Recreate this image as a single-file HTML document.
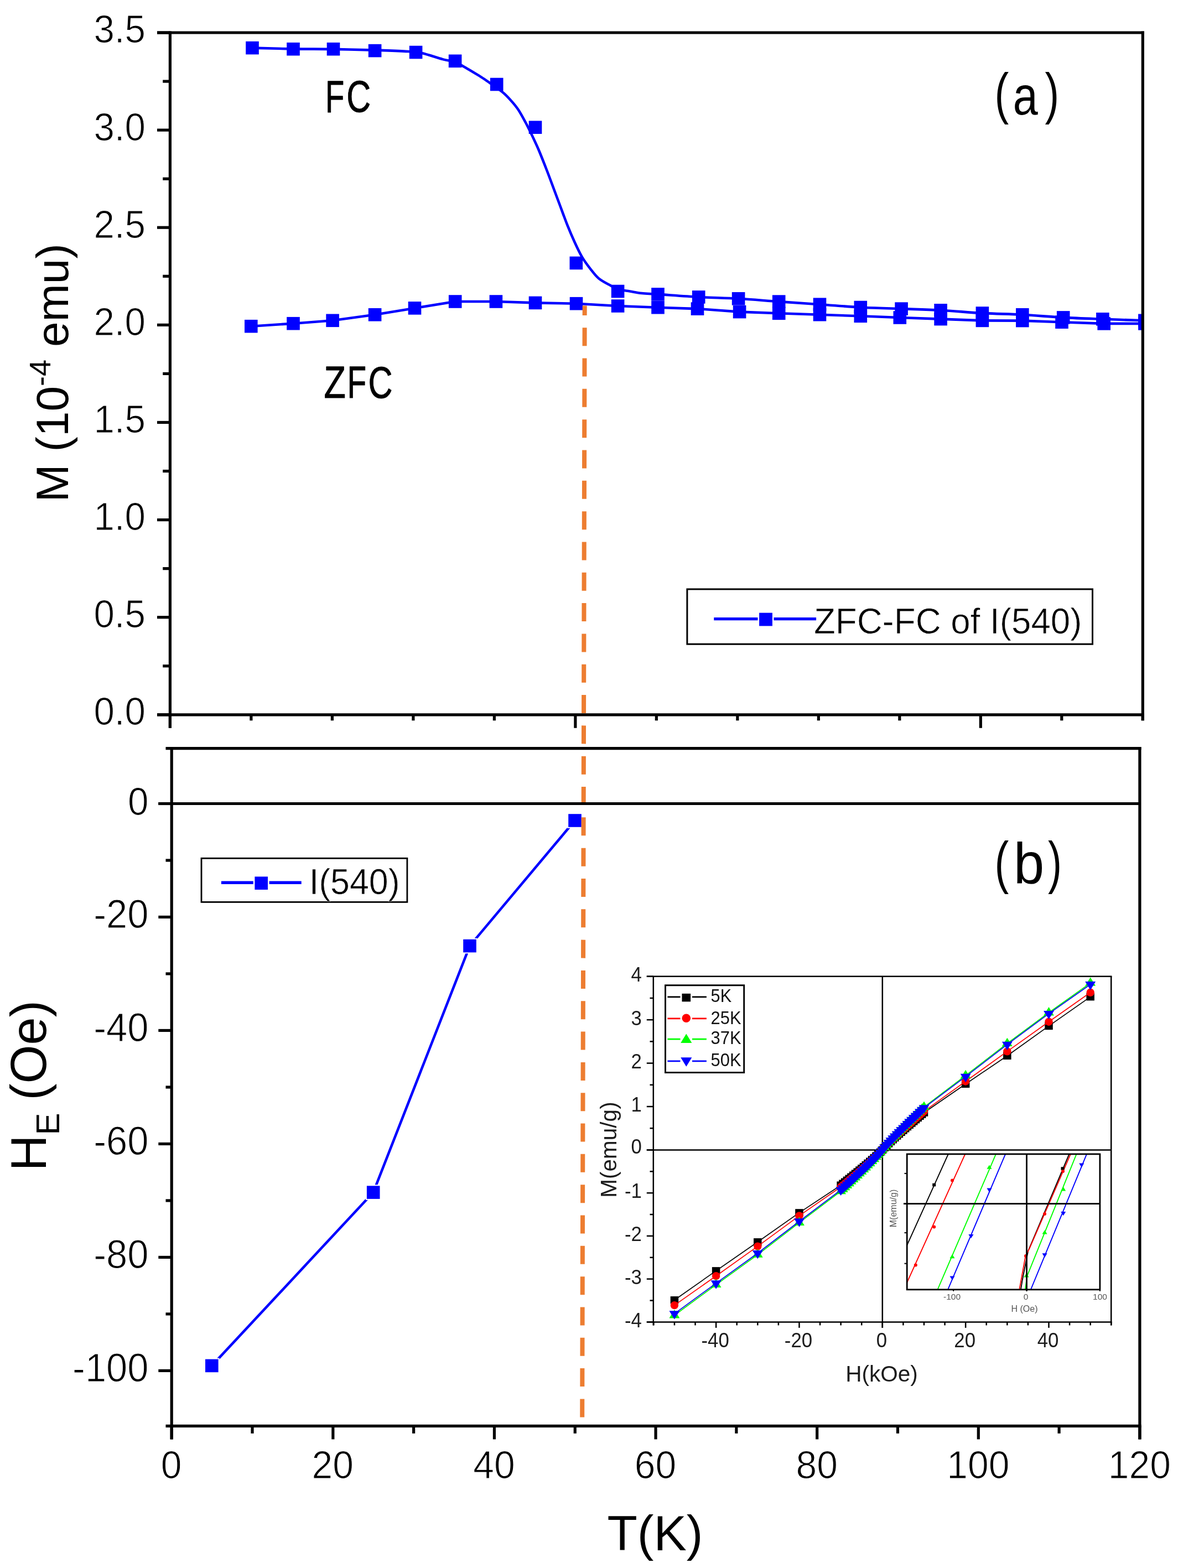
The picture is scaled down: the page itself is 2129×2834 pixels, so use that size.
<!DOCTYPE html>
<html lang="en">
<head>
<meta charset="utf-8">
<title>ZFC-FC magnetization and exchange bias field of I(540)</title>
<style>
html,body{margin:0;padding:0;background:#fff;}
body{width:2129px;height:2834px;overflow:hidden;}
svg{display:block;}
</style>
</head>
<body>
<svg width="2129" height="2834" viewBox="0 0 2129 2834" font-family="'Liberation Sans', Arial, sans-serif" shape-rendering="geometricPrecision">
<rect x="0.00" y="0.00" width="2129.00" height="2834.00" fill="#fff" stroke="none" stroke-width="0" />
<g id="panel-a">
<clipPath id="clipA"><rect x="307.4" y="59.0" width="1757.9" height="1232.8"/></clipPath>
<g clip-path="url(#clipA)">
<polyline fill="none" stroke="#0000ff" stroke-width="4.6" stroke-linejoin="round" points="453.8,589.7 530.0,584.7 601.1,579.3 677.6,568.8 749.5,556.9 822.7,545.0 896.4,545.0 967.5,547.4 1041.5,548.7 1116.6,553.0 1189.0,555.7 1260.5,558.1 1336.6,563.6 1407.7,566.3 1481.5,568.7 1555.3,571.3 1626.3,574.0 1700.1,576.6 1775.4,579.4 1847.8,579.6 1919.0,582.2 1995.2,584.9 2068.9,584.9"/>
<path fill="none" stroke="#0000ff" stroke-width="4.6" stroke-linejoin="round" d="M456.0,86.6 C468.3,86.9 505.6,88.0 530.0,88.4 C554.4,88.8 577.9,88.5 602.5,88.9 C627.1,89.3 656.4,90.0 677.6,90.6 C698.9,91.2 716.3,91.8 730.0,92.6 C743.7,93.4 748.3,93.1 760.0,95.5 C771.7,97.9 789.6,104.3 800.0,107.1 C810.4,109.9 815.4,109.8 822.6,112.5 C829.8,115.2 836.3,119.4 843.4,123.4 C850.5,127.4 858.2,132.1 865.1,136.4 C872.0,140.7 877.4,144.3 884.6,149.4 C891.8,154.5 902.0,161.4 908.5,166.8 C915.0,172.2 919.0,176.8 923.7,182.0 C928.4,187.2 932.4,191.8 936.7,198.3 C941.0,204.8 945.7,213.6 949.7,221.0 C953.7,228.4 956.6,234.5 960.6,242.8 C964.6,251.1 969.3,260.9 973.6,271.0 C977.9,281.1 982.2,292.3 986.6,303.5 C991.0,314.7 995.4,326.6 999.7,338.2 C1004.1,349.8 1008.4,361.4 1012.7,373.0 C1017.0,384.6 1021.4,396.9 1025.7,407.7 C1030.0,418.5 1034.4,428.6 1038.7,438.0 C1043.0,447.4 1047.0,456.1 1051.7,464.1 C1056.4,472.1 1061.8,479.3 1066.9,485.8 C1072.0,492.3 1075.9,498.1 1082.1,503.2 C1088.2,508.3 1098.0,513.0 1103.8,516.2 C1109.5,519.5 1110.8,521.0 1116.6,522.7 C1122.4,524.4 1131.3,525.3 1138.5,526.5 C1145.7,527.7 1151.6,529.1 1160.0,530.0 C1168.4,530.9 1171.9,530.8 1189.0,531.9 C1206.1,533.0 1238.4,535.6 1262.7,536.9 C1287.0,538.2 1310.4,538.4 1334.6,539.8 C1358.8,541.2 1383.2,543.4 1407.7,545.1 C1432.2,546.8 1456.9,548.5 1481.5,550.2 C1506.1,551.9 1530.7,554.2 1555.3,555.5 C1579.9,556.8 1605.0,557.2 1629.1,558.1 C1653.2,559.0 1675.7,559.5 1700.1,560.8 C1724.5,562.1 1750.8,564.7 1775.4,566.0 C1800.0,567.3 1823.4,567.5 1847.8,568.8 C1872.2,570.1 1897.5,572.6 1921.7,573.9 C1945.9,575.2 1968.4,575.9 1992.9,576.8 C2017.4,577.7 2056.2,578.9 2068.9,579.3"/>
<rect x="442.00" y="577.90" width="23.60" height="23.60" fill="#0000ff" stroke="none" stroke-width="0" />
<rect x="518.20" y="572.90" width="23.60" height="23.60" fill="#0000ff" stroke="none" stroke-width="0" />
<rect x="589.30" y="567.50" width="23.60" height="23.60" fill="#0000ff" stroke="none" stroke-width="0" />
<rect x="665.80" y="557.00" width="23.60" height="23.60" fill="#0000ff" stroke="none" stroke-width="0" />
<rect x="737.70" y="545.10" width="23.60" height="23.60" fill="#0000ff" stroke="none" stroke-width="0" />
<rect x="810.90" y="533.20" width="23.60" height="23.60" fill="#0000ff" stroke="none" stroke-width="0" />
<rect x="884.60" y="533.20" width="23.60" height="23.60" fill="#0000ff" stroke="none" stroke-width="0" />
<rect x="955.70" y="535.60" width="23.60" height="23.60" fill="#0000ff" stroke="none" stroke-width="0" />
<rect x="1029.70" y="536.90" width="23.60" height="23.60" fill="#0000ff" stroke="none" stroke-width="0" />
<rect x="1104.80" y="541.20" width="23.60" height="23.60" fill="#0000ff" stroke="none" stroke-width="0" />
<rect x="1177.20" y="543.90" width="23.60" height="23.60" fill="#0000ff" stroke="none" stroke-width="0" />
<rect x="1248.70" y="546.30" width="23.60" height="23.60" fill="#0000ff" stroke="none" stroke-width="0" />
<rect x="1324.80" y="551.80" width="23.60" height="23.60" fill="#0000ff" stroke="none" stroke-width="0" />
<rect x="1395.90" y="554.50" width="23.60" height="23.60" fill="#0000ff" stroke="none" stroke-width="0" />
<rect x="1469.70" y="556.90" width="23.60" height="23.60" fill="#0000ff" stroke="none" stroke-width="0" />
<rect x="1543.50" y="559.50" width="23.60" height="23.60" fill="#0000ff" stroke="none" stroke-width="0" />
<rect x="1614.50" y="562.20" width="23.60" height="23.60" fill="#0000ff" stroke="none" stroke-width="0" />
<rect x="1688.30" y="564.80" width="23.60" height="23.60" fill="#0000ff" stroke="none" stroke-width="0" />
<rect x="1763.60" y="567.60" width="23.60" height="23.60" fill="#0000ff" stroke="none" stroke-width="0" />
<rect x="1836.00" y="567.80" width="23.60" height="23.60" fill="#0000ff" stroke="none" stroke-width="0" />
<rect x="1907.20" y="570.40" width="23.60" height="23.60" fill="#0000ff" stroke="none" stroke-width="0" />
<rect x="1983.40" y="573.10" width="23.60" height="23.60" fill="#0000ff" stroke="none" stroke-width="0" />
<rect x="2057.10" y="573.10" width="23.60" height="23.60" fill="#0000ff" stroke="none" stroke-width="0" />
<rect x="444.20" y="74.80" width="23.60" height="23.60" fill="#0000ff" stroke="none" stroke-width="0" />
<rect x="518.20" y="76.90" width="23.60" height="23.60" fill="#0000ff" stroke="none" stroke-width="0" />
<rect x="590.70" y="76.90" width="23.60" height="23.60" fill="#0000ff" stroke="none" stroke-width="0" />
<rect x="665.80" y="79.80" width="23.60" height="23.60" fill="#0000ff" stroke="none" stroke-width="0" />
<rect x="739.80" y="82.70" width="23.60" height="23.60" fill="#0000ff" stroke="none" stroke-width="0" />
<rect x="810.80" y="98.50" width="23.60" height="23.60" fill="#0000ff" stroke="none" stroke-width="0" />
<rect x="885.90" y="140.70" width="23.60" height="23.60" fill="#0000ff" stroke="none" stroke-width="0" />
<rect x="955.70" y="218.40" width="23.60" height="23.60" fill="#0000ff" stroke="none" stroke-width="0" />
<rect x="1029.50" y="463.60" width="23.60" height="23.60" fill="#0000ff" stroke="none" stroke-width="0" />
<rect x="1104.80" y="514.70" width="23.60" height="23.60" fill="#0000ff" stroke="none" stroke-width="0" />
<rect x="1177.20" y="520.10" width="23.60" height="23.60" fill="#0000ff" stroke="none" stroke-width="0" />
<rect x="1250.90" y="525.10" width="23.60" height="23.60" fill="#0000ff" stroke="none" stroke-width="0" />
<rect x="1322.80" y="528.00" width="23.60" height="23.60" fill="#0000ff" stroke="none" stroke-width="0" />
<rect x="1395.90" y="533.30" width="23.60" height="23.60" fill="#0000ff" stroke="none" stroke-width="0" />
<rect x="1469.70" y="538.40" width="23.60" height="23.60" fill="#0000ff" stroke="none" stroke-width="0" />
<rect x="1543.50" y="543.70" width="23.60" height="23.60" fill="#0000ff" stroke="none" stroke-width="0" />
<rect x="1617.30" y="546.30" width="23.60" height="23.60" fill="#0000ff" stroke="none" stroke-width="0" />
<rect x="1688.30" y="549.00" width="23.60" height="23.60" fill="#0000ff" stroke="none" stroke-width="0" />
<rect x="1763.60" y="554.20" width="23.60" height="23.60" fill="#0000ff" stroke="none" stroke-width="0" />
<rect x="1836.00" y="557.00" width="23.60" height="23.60" fill="#0000ff" stroke="none" stroke-width="0" />
<rect x="1909.90" y="562.10" width="23.60" height="23.60" fill="#0000ff" stroke="none" stroke-width="0" />
<rect x="1981.10" y="565.00" width="23.60" height="23.60" fill="#0000ff" stroke="none" stroke-width="0" />
<rect x="2057.10" y="567.50" width="23.60" height="23.60" fill="#0000ff" stroke="none" stroke-width="0" />
</g>
<line x1="284.00" y1="59.00" x2="2067.90" y2="59.00" stroke="#000" stroke-width="5.2" />
<line x1="284.00" y1="1291.80" x2="2067.90" y2="1291.80" stroke="#000" stroke-width="5.2" />
<line x1="307.40" y1="56.40" x2="307.40" y2="1315.80" stroke="#000" stroke-width="5.2" />
<line x1="2065.30" y1="56.40" x2="2065.30" y2="1302.30" stroke="#000" stroke-width="5.2" />
<line x1="284.00" y1="1291.80" x2="307.40" y2="1291.80" stroke="#000" stroke-width="5.2" />
<text transform="translate(263.00,1310.20) scale(0.955,1)" font-size="70.5" text-anchor="end" fill="#000" stroke="#fff" stroke-width="1.1">0.0</text>
<line x1="294.20" y1="1203.74" x2="307.40" y2="1203.74" stroke="#000" stroke-width="5.2" />
<line x1="284.00" y1="1115.69" x2="307.40" y2="1115.69" stroke="#000" stroke-width="5.2" />
<text transform="translate(263.00,1134.09) scale(0.955,1)" font-size="70.5" text-anchor="end" fill="#000" stroke="#fff" stroke-width="1.1">0.5</text>
<line x1="294.20" y1="1027.63" x2="307.40" y2="1027.63" stroke="#000" stroke-width="5.2" />
<line x1="284.00" y1="939.57" x2="307.40" y2="939.57" stroke="#000" stroke-width="5.2" />
<text transform="translate(263.00,957.97) scale(0.955,1)" font-size="70.5" text-anchor="end" fill="#000" stroke="#fff" stroke-width="1.1">1.0</text>
<line x1="294.20" y1="851.51" x2="307.40" y2="851.51" stroke="#000" stroke-width="5.2" />
<line x1="284.00" y1="763.46" x2="307.40" y2="763.46" stroke="#000" stroke-width="5.2" />
<text transform="translate(263.00,781.86) scale(0.955,1)" font-size="70.5" text-anchor="end" fill="#000" stroke="#fff" stroke-width="1.1">1.5</text>
<line x1="294.20" y1="675.40" x2="307.40" y2="675.40" stroke="#000" stroke-width="5.2" />
<line x1="284.00" y1="587.34" x2="307.40" y2="587.34" stroke="#000" stroke-width="5.2" />
<text transform="translate(263.00,605.74) scale(0.955,1)" font-size="70.5" text-anchor="end" fill="#000" stroke="#fff" stroke-width="1.1">2.0</text>
<line x1="294.20" y1="499.29" x2="307.40" y2="499.29" stroke="#000" stroke-width="5.2" />
<line x1="284.00" y1="411.23" x2="307.40" y2="411.23" stroke="#000" stroke-width="5.2" />
<text transform="translate(263.00,429.63) scale(0.955,1)" font-size="70.5" text-anchor="end" fill="#000" stroke="#fff" stroke-width="1.1">2.5</text>
<line x1="294.20" y1="323.17" x2="307.40" y2="323.17" stroke="#000" stroke-width="5.2" />
<line x1="284.00" y1="235.11" x2="307.40" y2="235.11" stroke="#000" stroke-width="5.2" />
<text transform="translate(263.00,253.51) scale(0.955,1)" font-size="70.5" text-anchor="end" fill="#000" stroke="#fff" stroke-width="1.1">3.0</text>
<line x1="294.20" y1="147.06" x2="307.40" y2="147.06" stroke="#000" stroke-width="5.2" />
<line x1="284.00" y1="59.00" x2="307.40" y2="59.00" stroke="#000" stroke-width="5.2" />
<text transform="translate(263.00,77.40) scale(0.955,1)" font-size="70.5" text-anchor="end" fill="#000" stroke="#fff" stroke-width="1.1">3.5</text>
<line x1="307.40" y1="1291.80" x2="307.40" y2="1315.80" stroke="#000" stroke-width="5.2" />
<line x1="453.89" y1="1291.80" x2="453.89" y2="1302.30" stroke="#000" stroke-width="5.2" />
<line x1="600.38" y1="1291.80" x2="600.38" y2="1302.30" stroke="#000" stroke-width="5.2" />
<line x1="746.88" y1="1291.80" x2="746.88" y2="1302.30" stroke="#000" stroke-width="5.2" />
<line x1="893.37" y1="1291.80" x2="893.37" y2="1302.30" stroke="#000" stroke-width="5.2" />
<line x1="1039.86" y1="1291.80" x2="1039.86" y2="1315.80" stroke="#000" stroke-width="5.2" />
<line x1="1186.35" y1="1291.80" x2="1186.35" y2="1302.30" stroke="#000" stroke-width="5.2" />
<line x1="1332.84" y1="1291.80" x2="1332.84" y2="1302.30" stroke="#000" stroke-width="5.2" />
<line x1="1479.33" y1="1291.80" x2="1479.33" y2="1302.30" stroke="#000" stroke-width="5.2" />
<line x1="1625.82" y1="1291.80" x2="1625.82" y2="1302.30" stroke="#000" stroke-width="5.2" />
<line x1="1772.32" y1="1291.80" x2="1772.32" y2="1315.80" stroke="#000" stroke-width="5.2" />
<line x1="1918.81" y1="1291.80" x2="1918.81" y2="1302.30" stroke="#000" stroke-width="5.2" />
<line x1="2065.30" y1="1291.80" x2="2065.30" y2="1302.30" stroke="#000" stroke-width="5.2" />
<text transform="translate(123.4,673.9) rotate(-90)" font-size="82" text-anchor="middle" aria-label="M (10^-4 emu)">M (10<tspan font-size="54" dy="-32.5">-4</tspan><tspan dy="32.5"> emu)</tspan></text>
<text fill="#000" aria-label="FC" stroke="#000" stroke-width="1.0" stroke-linejoin="round"><tspan x="588.01" y="202.70" font-size="80.81" textLength="34.24" lengthAdjust="spacingAndGlyphs">F</tspan><tspan x="626.30" y="202.40" font-size="80.08" textLength="43.91" lengthAdjust="spacingAndGlyphs">C</tspan></text>
<text fill="#000" aria-label="ZFC" stroke="#000" stroke-width="1.0" stroke-linejoin="round"><tspan x="585.54" y="719.10" font-size="80.81" textLength="39.36" lengthAdjust="spacingAndGlyphs">Z</tspan><tspan x="627.46" y="719.10" font-size="80.81" textLength="34.61" lengthAdjust="spacingAndGlyphs">F</tspan><tspan x="665.59" y="718.80" font-size="80.08" textLength="44.03" lengthAdjust="spacingAndGlyphs">C</tspan></text>
<text fill="#000" aria-label="(a)"><tspan x="1797.50" y="203.83" font-size="102.25" textLength="25.76" lengthAdjust="spacingAndGlyphs">(</tspan><tspan x="1830.80" y="206.91" font-size="98.72" textLength="45.00" lengthAdjust="spacingAndGlyphs">a</tspan><tspan x="1888.54" y="203.83" font-size="102.25" textLength="25.63" lengthAdjust="spacingAndGlyphs">)</tspan></text>
<rect x="1241.90" y="1064.90" width="732.60" height="99.30" fill="#fff" stroke="#000" stroke-width="3" />
<line x1="1290.30" y1="1118.60" x2="1475.10" y2="1118.60" stroke="#0000ff" stroke-width="5.4" />
<rect x="1369.50" y="1105.00" width="29.00" height="29.00" fill="#fff" stroke="none" stroke-width="0" />
<rect x="1372.10" y="1107.60" width="23.80" height="23.80" fill="#0000ff" stroke="none" stroke-width="0" />
<text x="1470.90" y="1144.70" font-size="64" text-anchor="start" fill="#000" textLength="484.5" lengthAdjust="spacingAndGlyphs" stroke="#fff" stroke-width="0.7">ZFC-FC of I(540)</text>
</g>
<g id="panel-b">
<polyline fill="none" stroke="#0000ff" stroke-width="4.6" points="382.8,2468.4 674.7,2155.1 849.0,1709.6 1039.0,1483.0"/>
<rect x="369.00" y="2454.60" width="27.60" height="27.60" fill="#fff" stroke="none" stroke-width="0" />
<rect x="371.00" y="2456.60" width="23.60" height="23.60" fill="#0000ff" stroke="none" stroke-width="0" />
<rect x="660.90" y="2141.30" width="27.60" height="27.60" fill="#fff" stroke="none" stroke-width="0" />
<rect x="662.90" y="2143.30" width="23.60" height="23.60" fill="#0000ff" stroke="none" stroke-width="0" />
<rect x="835.20" y="1695.80" width="27.60" height="27.60" fill="#fff" stroke="none" stroke-width="0" />
<rect x="837.20" y="1697.80" width="23.60" height="23.60" fill="#0000ff" stroke="none" stroke-width="0" />
<rect x="1025.20" y="1469.20" width="27.60" height="27.60" fill="#fff" stroke="none" stroke-width="0" />
<rect x="1027.20" y="1471.20" width="23.60" height="23.60" fill="#0000ff" stroke="none" stroke-width="0" />
<rect x="364.00" y="1551.30" width="371.90" height="79.10" fill="#fff" stroke="#000" stroke-width="2.8" />
<line x1="399.90" y1="1595.20" x2="544.70" y2="1595.20" stroke="#0000ff" stroke-width="5.4" />
<rect x="457.80" y="1581.80" width="28.80" height="28.80" fill="#fff" stroke="none" stroke-width="0" />
<rect x="460.40" y="1584.40" width="23.60" height="23.60" fill="#0000ff" stroke="none" stroke-width="0" />
<text x="558.70" y="1616.00" font-size="64" text-anchor="start" fill="#000" textLength="164" lengthAdjust="spacingAndGlyphs" stroke="#fff" stroke-width="0.7">I(540)</text>
<text fill="#000" aria-label="(b)"><tspan x="1797.50" y="1594.16" font-size="104.08" textLength="25.76" lengthAdjust="spacingAndGlyphs">(</tspan><tspan x="1831.94" y="1596.27" font-size="103.40" textLength="55.23" lengthAdjust="spacingAndGlyphs">b</tspan><tspan x="1893.95" y="1594.16" font-size="104.08" textLength="25.01" lengthAdjust="spacingAndGlyphs">)</tspan></text>
</g>
<g id="inset">
<line x1="1168.80" y1="2078.40" x2="2008.20" y2="2078.40" stroke="#000" stroke-width="2.5" />
<line x1="1594.80" y1="1764.80" x2="1594.80" y2="2399.90" stroke="#000" stroke-width="2.5" />
<polyline fill="none" stroke="#000000" stroke-width="1.7" points="1218.9,2349.7 1294.1,2296.9 1369.3,2244.8 1444.5,2191.9 1519.6,2142.2 1523.4,2139.2 1527.1,2136.2 1530.9,2133.2 1534.7,2130.2 1538.4,2127.2 1542.2,2124.2 1545.9,2121.1 1549.7,2118.0 1553.5,2115.0 1557.2,2111.9 1561.0,2108.7 1564.7,2105.6 1568.5,2102.4 1572.2,2099.2 1576.0,2096.0 1579.8,2092.7 1583.5,2089.3 1587.3,2085.9 1591.0,2082.3 1594.8,2078.4 1598.6,2074.2 1602.3,2070.5 1606.1,2066.9 1609.8,2063.3 1613.6,2059.8 1617.4,2056.4 1621.1,2053.0 1624.9,2049.6 1628.6,2046.3 1632.4,2043.0 1636.1,2039.7 1639.9,2036.5 1643.7,2033.2 1647.4,2030.0 1651.2,2026.8 1654.9,2023.6 1658.7,2020.4 1662.5,2017.3 1666.2,2014.1 1670.0,2011.0 1745.1,1959.2 1820.3,1908.3 1895.5,1854.4 1970.7,1801.6"/>
<rect x="1211.70" y="2343.01" width="14.50" height="13.49" fill="#000000" stroke="none" stroke-width="0" />
<rect x="1286.87" y="2290.14" width="14.50" height="13.49" fill="#000000" stroke="none" stroke-width="0" />
<rect x="1362.04" y="2238.04" width="14.50" height="13.49" fill="#000000" stroke="none" stroke-width="0" />
<rect x="1437.21" y="2185.17" width="14.50" height="13.49" fill="#000000" stroke="none" stroke-width="0" />
<rect x="1512.38" y="2135.41" width="14.50" height="13.49" fill="#000000" stroke="none" stroke-width="0" />
<rect x="1516.14" y="2132.44" width="14.50" height="13.49" fill="#000000" stroke="none" stroke-width="0" />
<rect x="1519.90" y="2129.46" width="14.50" height="13.49" fill="#000000" stroke="none" stroke-width="0" />
<rect x="1523.66" y="2126.47" width="14.50" height="13.49" fill="#000000" stroke="none" stroke-width="0" />
<rect x="1527.41" y="2123.46" width="14.50" height="13.49" fill="#000000" stroke="none" stroke-width="0" />
<rect x="1531.17" y="2120.45" width="14.50" height="13.49" fill="#000000" stroke="none" stroke-width="0" />
<rect x="1534.93" y="2117.41" width="14.50" height="13.49" fill="#000000" stroke="none" stroke-width="0" />
<rect x="1538.69" y="2114.37" width="14.50" height="13.49" fill="#000000" stroke="none" stroke-width="0" />
<rect x="1542.45" y="2111.30" width="14.50" height="13.49" fill="#000000" stroke="none" stroke-width="0" />
<rect x="1546.21" y="2108.22" width="14.50" height="13.49" fill="#000000" stroke="none" stroke-width="0" />
<rect x="1549.96" y="2105.12" width="14.50" height="13.49" fill="#000000" stroke="none" stroke-width="0" />
<rect x="1553.72" y="2102.00" width="14.50" height="13.49" fill="#000000" stroke="none" stroke-width="0" />
<rect x="1557.48" y="2098.85" width="14.50" height="13.49" fill="#000000" stroke="none" stroke-width="0" />
<rect x="1561.24" y="2095.67" width="14.50" height="13.49" fill="#000000" stroke="none" stroke-width="0" />
<rect x="1565.00" y="2092.47" width="14.50" height="13.49" fill="#000000" stroke="none" stroke-width="0" />
<rect x="1568.76" y="2089.22" width="14.50" height="13.49" fill="#000000" stroke="none" stroke-width="0" />
<rect x="1572.52" y="2085.93" width="14.50" height="13.49" fill="#000000" stroke="none" stroke-width="0" />
<rect x="1576.27" y="2082.58" width="14.50" height="13.49" fill="#000000" stroke="none" stroke-width="0" />
<rect x="1580.03" y="2079.15" width="14.50" height="13.49" fill="#000000" stroke="none" stroke-width="0" />
<rect x="1583.79" y="2075.59" width="14.50" height="13.49" fill="#000000" stroke="none" stroke-width="0" />
<rect x="1587.55" y="2071.66" width="14.50" height="13.49" fill="#000000" stroke="none" stroke-width="0" />
<rect x="1591.31" y="2067.50" width="14.50" height="13.49" fill="#000000" stroke="none" stroke-width="0" />
<rect x="1595.07" y="2063.74" width="14.50" height="13.49" fill="#000000" stroke="none" stroke-width="0" />
<rect x="1598.83" y="2060.11" width="14.50" height="13.49" fill="#000000" stroke="none" stroke-width="0" />
<rect x="1602.58" y="2056.56" width="14.50" height="13.49" fill="#000000" stroke="none" stroke-width="0" />
<rect x="1606.34" y="2053.08" width="14.50" height="13.49" fill="#000000" stroke="none" stroke-width="0" />
<rect x="1610.10" y="2049.65" width="14.50" height="13.49" fill="#000000" stroke="none" stroke-width="0" />
<rect x="1613.86" y="2046.26" width="14.50" height="13.49" fill="#000000" stroke="none" stroke-width="0" />
<rect x="1617.62" y="2042.90" width="14.50" height="13.49" fill="#000000" stroke="none" stroke-width="0" />
<rect x="1621.38" y="2039.57" width="14.50" height="13.49" fill="#000000" stroke="none" stroke-width="0" />
<rect x="1625.13" y="2036.27" width="14.50" height="13.49" fill="#000000" stroke="none" stroke-width="0" />
<rect x="1628.89" y="2032.99" width="14.50" height="13.49" fill="#000000" stroke="none" stroke-width="0" />
<rect x="1632.65" y="2029.73" width="14.50" height="13.49" fill="#000000" stroke="none" stroke-width="0" />
<rect x="1636.41" y="2026.49" width="14.50" height="13.49" fill="#000000" stroke="none" stroke-width="0" />
<rect x="1640.17" y="2023.27" width="14.50" height="13.49" fill="#000000" stroke="none" stroke-width="0" />
<rect x="1643.93" y="2020.06" width="14.50" height="13.49" fill="#000000" stroke="none" stroke-width="0" />
<rect x="1647.69" y="2016.87" width="14.50" height="13.49" fill="#000000" stroke="none" stroke-width="0" />
<rect x="1651.44" y="2013.69" width="14.50" height="13.49" fill="#000000" stroke="none" stroke-width="0" />
<rect x="1655.20" y="2010.53" width="14.50" height="13.49" fill="#000000" stroke="none" stroke-width="0" />
<rect x="1658.96" y="2007.37" width="14.50" height="13.49" fill="#000000" stroke="none" stroke-width="0" />
<rect x="1662.72" y="2004.23" width="14.50" height="13.49" fill="#000000" stroke="none" stroke-width="0" />
<rect x="1737.89" y="1952.49" width="14.50" height="13.49" fill="#000000" stroke="none" stroke-width="0" />
<rect x="1813.06" y="1901.53" width="14.50" height="13.49" fill="#000000" stroke="none" stroke-width="0" />
<rect x="1888.23" y="1847.67" width="14.50" height="13.49" fill="#000000" stroke="none" stroke-width="0" />
<rect x="1963.40" y="1794.91" width="14.50" height="13.49" fill="#000000" stroke="none" stroke-width="0" />
<polyline fill="none" stroke="#ff0000" stroke-width="1.7" points="1218.9,2359.1 1294.1,2306.2 1369.3,2252.6 1444.5,2197.4 1519.6,2145.3 1523.4,2142.2 1527.1,2139.0 1530.9,2135.9 1534.7,2132.7 1538.4,2129.6 1542.2,2126.4 1545.9,2123.2 1549.7,2120.0 1553.5,2116.7 1557.2,2113.5 1561.0,2110.2 1564.7,2106.9 1568.5,2103.6 1572.2,2100.2 1576.0,2096.8 1579.8,2093.4 1583.5,2089.9 1587.3,2086.3 1591.0,2082.5 1594.8,2078.4 1598.6,2074.1 1602.3,2070.2 1606.1,2066.4 1609.8,2062.8 1613.6,2059.2 1617.4,2055.6 1621.1,2052.1 1624.9,2048.6 1628.6,2045.2 1632.4,2041.8 1636.1,2038.4 1639.9,2035.0 1643.7,2031.7 1647.4,2028.3 1651.2,2025.0 1654.9,2021.7 1658.7,2018.4 1662.5,2015.1 1666.2,2011.9 1670.0,2008.6 1745.1,1954.5 1820.3,1900.4 1895.5,1846.7 1970.7,1793.8"/>
<circle cx="1218.9" cy="2359.1" r="7.2" fill="#ff0000"/>
<circle cx="1294.1" cy="2306.2" r="7.2" fill="#ff0000"/>
<circle cx="1369.3" cy="2252.6" r="7.2" fill="#ff0000"/>
<circle cx="1444.5" cy="2197.4" r="7.2" fill="#ff0000"/>
<circle cx="1519.6" cy="2145.3" r="7.2" fill="#ff0000"/>
<circle cx="1523.4" cy="2142.2" r="7.2" fill="#ff0000"/>
<circle cx="1527.1" cy="2139.0" r="7.2" fill="#ff0000"/>
<circle cx="1530.9" cy="2135.9" r="7.2" fill="#ff0000"/>
<circle cx="1534.7" cy="2132.7" r="7.2" fill="#ff0000"/>
<circle cx="1538.4" cy="2129.6" r="7.2" fill="#ff0000"/>
<circle cx="1542.2" cy="2126.4" r="7.2" fill="#ff0000"/>
<circle cx="1545.9" cy="2123.2" r="7.2" fill="#ff0000"/>
<circle cx="1549.7" cy="2120.0" r="7.2" fill="#ff0000"/>
<circle cx="1553.5" cy="2116.7" r="7.2" fill="#ff0000"/>
<circle cx="1557.2" cy="2113.5" r="7.2" fill="#ff0000"/>
<circle cx="1561.0" cy="2110.2" r="7.2" fill="#ff0000"/>
<circle cx="1564.7" cy="2106.9" r="7.2" fill="#ff0000"/>
<circle cx="1568.5" cy="2103.6" r="7.2" fill="#ff0000"/>
<circle cx="1572.2" cy="2100.2" r="7.2" fill="#ff0000"/>
<circle cx="1576.0" cy="2096.8" r="7.2" fill="#ff0000"/>
<circle cx="1579.8" cy="2093.4" r="7.2" fill="#ff0000"/>
<circle cx="1583.5" cy="2089.9" r="7.2" fill="#ff0000"/>
<circle cx="1587.3" cy="2086.3" r="7.2" fill="#ff0000"/>
<circle cx="1591.0" cy="2082.5" r="7.2" fill="#ff0000"/>
<circle cx="1594.8" cy="2078.4" r="7.2" fill="#ff0000"/>
<circle cx="1598.6" cy="2074.1" r="7.2" fill="#ff0000"/>
<circle cx="1602.3" cy="2070.2" r="7.2" fill="#ff0000"/>
<circle cx="1606.1" cy="2066.4" r="7.2" fill="#ff0000"/>
<circle cx="1609.8" cy="2062.8" r="7.2" fill="#ff0000"/>
<circle cx="1613.6" cy="2059.2" r="7.2" fill="#ff0000"/>
<circle cx="1617.4" cy="2055.6" r="7.2" fill="#ff0000"/>
<circle cx="1621.1" cy="2052.1" r="7.2" fill="#ff0000"/>
<circle cx="1624.9" cy="2048.6" r="7.2" fill="#ff0000"/>
<circle cx="1628.6" cy="2045.2" r="7.2" fill="#ff0000"/>
<circle cx="1632.4" cy="2041.8" r="7.2" fill="#ff0000"/>
<circle cx="1636.1" cy="2038.4" r="7.2" fill="#ff0000"/>
<circle cx="1639.9" cy="2035.0" r="7.2" fill="#ff0000"/>
<circle cx="1643.7" cy="2031.7" r="7.2" fill="#ff0000"/>
<circle cx="1647.4" cy="2028.3" r="7.2" fill="#ff0000"/>
<circle cx="1651.2" cy="2025.0" r="7.2" fill="#ff0000"/>
<circle cx="1654.9" cy="2021.7" r="7.2" fill="#ff0000"/>
<circle cx="1658.7" cy="2018.4" r="7.2" fill="#ff0000"/>
<circle cx="1662.5" cy="2015.1" r="7.2" fill="#ff0000"/>
<circle cx="1666.2" cy="2011.9" r="7.2" fill="#ff0000"/>
<circle cx="1670.0" cy="2008.6" r="7.2" fill="#ff0000"/>
<circle cx="1745.1" cy="1954.5" r="7.2" fill="#ff0000"/>
<circle cx="1820.3" cy="1900.4" r="7.2" fill="#ff0000"/>
<circle cx="1895.5" cy="1846.7" r="7.2" fill="#ff0000"/>
<circle cx="1970.7" cy="1793.8" r="7.2" fill="#ff0000"/>
<polyline fill="none" stroke="#00ff00" stroke-width="1.7" points="1218.9,2377.3 1294.1,2322.0 1369.3,2267.7 1444.5,2209.8 1519.6,2153.0 1523.4,2149.6 1527.1,2146.1 1530.9,2142.6 1534.7,2139.1 1538.4,2135.5 1542.2,2132.0 1545.9,2128.4 1549.7,2124.8 1553.5,2121.2 1557.2,2117.6 1561.0,2113.9 1564.7,2110.2 1568.5,2106.5 1572.2,2102.8 1576.0,2099.0 1579.8,2095.1 1583.5,2091.2 1587.3,2087.2 1591.0,2083.0 1594.8,2078.4 1598.6,2073.6 1602.3,2069.3 1606.1,2065.1 1609.8,2061.0 1613.6,2057.0 1617.4,2053.1 1621.1,2049.2 1624.9,2045.3 1628.6,2041.5 1632.4,2037.7 1636.1,2033.9 1639.9,2030.1 1643.7,2026.4 1647.4,2022.7 1651.2,2019.0 1654.9,2015.3 1658.7,2011.7 1662.5,2008.0 1666.2,2004.4 1670.0,2000.8 1745.1,1943.9 1820.3,1885.9 1895.5,1830.3 1970.7,1776.7"/>
<polygon points="1209.5,2382.5 1228.4,2382.5 1218.9,2367.1" fill="#00ff00"/>
<polygon points="1284.7,2327.1 1303.5,2327.1 1294.1,2311.7" fill="#00ff00"/>
<polygon points="1359.9,2272.8 1378.7,2272.8 1369.3,2257.5" fill="#00ff00"/>
<polygon points="1435.0,2214.9 1453.9,2214.9 1444.5,2199.6" fill="#00ff00"/>
<polygon points="1510.2,2158.2 1529.1,2158.2 1519.6,2142.8" fill="#00ff00"/>
<polygon points="1514.0,2154.7 1532.8,2154.7 1523.4,2139.3" fill="#00ff00"/>
<polygon points="1517.7,2151.2 1536.6,2151.2 1527.1,2135.8" fill="#00ff00"/>
<polygon points="1521.5,2147.7 1540.3,2147.7 1530.9,2132.3" fill="#00ff00"/>
<polygon points="1525.2,2144.2 1544.1,2144.2 1534.7,2128.8" fill="#00ff00"/>
<polygon points="1529.0,2140.6 1547.8,2140.6 1538.4,2125.3" fill="#00ff00"/>
<polygon points="1532.8,2137.1 1551.6,2137.1 1542.2,2121.7" fill="#00ff00"/>
<polygon points="1536.5,2133.5 1555.4,2133.5 1545.9,2118.2" fill="#00ff00"/>
<polygon points="1540.3,2129.9 1559.1,2129.9 1549.7,2114.6" fill="#00ff00"/>
<polygon points="1544.0,2126.3 1562.9,2126.3 1553.5,2111.0" fill="#00ff00"/>
<polygon points="1547.8,2122.7 1566.6,2122.7 1557.2,2107.3" fill="#00ff00"/>
<polygon points="1551.5,2119.0 1570.4,2119.0 1561.0,2103.7" fill="#00ff00"/>
<polygon points="1555.3,2115.4 1574.2,2115.4 1564.7,2100.0" fill="#00ff00"/>
<polygon points="1559.1,2111.6 1577.9,2111.6 1568.5,2096.3" fill="#00ff00"/>
<polygon points="1562.8,2107.9 1581.7,2107.9 1572.2,2092.5" fill="#00ff00"/>
<polygon points="1566.6,2104.1 1585.4,2104.1 1576.0,2088.7" fill="#00ff00"/>
<polygon points="1570.3,2100.2 1589.2,2100.2 1579.8,2084.9" fill="#00ff00"/>
<polygon points="1574.1,2096.3 1592.9,2096.3 1583.5,2080.9" fill="#00ff00"/>
<polygon points="1577.9,2092.3 1596.7,2092.3 1587.3,2076.9" fill="#00ff00"/>
<polygon points="1581.6,2088.1 1600.5,2088.1 1591.0,2072.8" fill="#00ff00"/>
<polygon points="1585.4,2083.5 1604.2,2083.5 1594.8,2068.2" fill="#00ff00"/>
<polygon points="1589.1,2078.7 1608.0,2078.7 1598.6,2063.4" fill="#00ff00"/>
<polygon points="1592.9,2074.4 1611.7,2074.4 1602.3,2059.0" fill="#00ff00"/>
<polygon points="1596.7,2070.2 1615.5,2070.2 1606.1,2054.9" fill="#00ff00"/>
<polygon points="1600.4,2066.1 1619.3,2066.1 1609.8,2050.8" fill="#00ff00"/>
<polygon points="1604.2,2062.1 1623.0,2062.1 1613.6,2046.8" fill="#00ff00"/>
<polygon points="1607.9,2058.2 1626.8,2058.2 1617.4,2042.8" fill="#00ff00"/>
<polygon points="1611.7,2054.3 1630.5,2054.3 1621.1,2038.9" fill="#00ff00"/>
<polygon points="1615.4,2050.4 1634.3,2050.4 1624.9,2035.1" fill="#00ff00"/>
<polygon points="1619.2,2046.6 1638.1,2046.6 1628.6,2031.2" fill="#00ff00"/>
<polygon points="1623.0,2042.8 1641.8,2042.8 1632.4,2027.4" fill="#00ff00"/>
<polygon points="1626.7,2039.0 1645.6,2039.0 1636.1,2023.6" fill="#00ff00"/>
<polygon points="1630.5,2035.3 1649.3,2035.3 1639.9,2019.9" fill="#00ff00"/>
<polygon points="1634.2,2031.5 1653.1,2031.5 1643.7,2016.2" fill="#00ff00"/>
<polygon points="1638.0,2027.8 1656.8,2027.8 1647.4,2012.4" fill="#00ff00"/>
<polygon points="1641.8,2024.1 1660.6,2024.1 1651.2,2008.8" fill="#00ff00"/>
<polygon points="1645.5,2020.5 1664.4,2020.5 1654.9,2005.1" fill="#00ff00"/>
<polygon points="1649.3,2016.8 1668.1,2016.8 1658.7,2001.4" fill="#00ff00"/>
<polygon points="1653.0,2013.2 1671.9,2013.2 1662.5,1997.8" fill="#00ff00"/>
<polygon points="1656.8,2009.5 1675.6,2009.5 1666.2,1994.2" fill="#00ff00"/>
<polygon points="1660.5,2005.9 1679.4,2005.9 1670.0,1990.5" fill="#00ff00"/>
<polygon points="1735.7,1949.1 1754.6,1949.1 1745.1,1933.7" fill="#00ff00"/>
<polygon points="1810.9,1891.1 1829.7,1891.1 1820.3,1875.7" fill="#00ff00"/>
<polygon points="1886.1,1835.4 1904.9,1835.4 1895.5,1820.0" fill="#00ff00"/>
<polygon points="1961.2,1781.8 1980.1,1781.8 1970.7,1766.5" fill="#00ff00"/>
<polyline fill="none" stroke="#0000ff" stroke-width="1.7" points="1218.9,2374.4 1294.1,2319.4 1369.3,2265.0 1444.5,2207.5 1519.6,2150.7 1523.4,2147.3 1527.1,2144.0 1530.9,2140.6 1534.7,2137.2 1538.4,2133.7 1542.2,2130.3 1545.9,2126.8 1549.7,2123.4 1553.5,2119.9 1557.2,2116.4 1561.0,2112.8 1564.7,2109.2 1568.5,2105.6 1572.2,2102.0 1576.0,2098.3 1579.8,2094.6 1583.5,2090.8 1587.3,2086.9 1591.0,2082.9 1594.8,2078.4 1598.6,2073.7 1602.3,2069.5 1606.1,2065.4 1609.8,2061.4 1613.6,2057.5 1617.4,2053.6 1621.1,2049.8 1624.9,2046.0 1628.6,2042.2 1632.4,2038.5 1636.1,2034.8 1639.9,2031.1 1643.7,2027.5 1647.4,2023.8 1651.2,2020.2 1654.9,2016.6 1658.7,2013.0 1662.5,2009.5 1666.2,2005.9 1670.0,2002.4 1745.1,1945.9 1820.3,1887.9 1895.5,1832.1 1970.7,1779.2"/>
<polygon points="1209.5,2369.3 1228.4,2369.3 1218.9,2384.6" fill="#0000ff"/>
<polygon points="1284.7,2314.3 1303.5,2314.3 1294.1,2329.7" fill="#0000ff"/>
<polygon points="1359.9,2259.9 1378.7,2259.9 1369.3,2275.2" fill="#0000ff"/>
<polygon points="1435.0,2202.3 1453.9,2202.3 1444.5,2217.7" fill="#0000ff"/>
<polygon points="1510.2,2145.6 1529.1,2145.6 1519.6,2161.0" fill="#0000ff"/>
<polygon points="1514.0,2142.2 1532.8,2142.2 1523.4,2157.6" fill="#0000ff"/>
<polygon points="1517.7,2138.8 1536.6,2138.8 1527.1,2154.2" fill="#0000ff"/>
<polygon points="1521.5,2135.4 1540.3,2135.4 1530.9,2150.8" fill="#0000ff"/>
<polygon points="1525.2,2132.0 1544.1,2132.0 1534.7,2147.4" fill="#0000ff"/>
<polygon points="1529.0,2128.6 1547.8,2128.6 1538.4,2144.0" fill="#0000ff"/>
<polygon points="1532.8,2125.2 1551.6,2125.2 1542.2,2140.5" fill="#0000ff"/>
<polygon points="1536.5,2121.7 1555.4,2121.7 1545.9,2137.1" fill="#0000ff"/>
<polygon points="1540.3,2118.2 1559.1,2118.2 1549.7,2133.6" fill="#0000ff"/>
<polygon points="1544.0,2114.7 1562.9,2114.7 1553.5,2130.1" fill="#0000ff"/>
<polygon points="1547.8,2111.2 1566.6,2111.2 1557.2,2126.6" fill="#0000ff"/>
<polygon points="1551.5,2107.7 1570.4,2107.7 1561.0,2123.1" fill="#0000ff"/>
<polygon points="1555.3,2104.1 1574.2,2104.1 1564.7,2119.5" fill="#0000ff"/>
<polygon points="1559.1,2100.5 1577.9,2100.5 1568.5,2115.9" fill="#0000ff"/>
<polygon points="1562.8,2096.9 1581.7,2096.9 1572.2,2112.2" fill="#0000ff"/>
<polygon points="1566.6,2093.2 1585.4,2093.2 1576.0,2108.6" fill="#0000ff"/>
<polygon points="1570.3,2089.5 1589.2,2089.5 1579.8,2104.8" fill="#0000ff"/>
<polygon points="1574.1,2085.7 1592.9,2085.7 1583.5,2101.0" fill="#0000ff"/>
<polygon points="1577.9,2081.8 1596.7,2081.8 1587.3,2097.1" fill="#0000ff"/>
<polygon points="1581.6,2077.7 1600.5,2077.7 1591.0,2093.1" fill="#0000ff"/>
<polygon points="1585.4,2073.3 1604.2,2073.3 1594.8,2088.6" fill="#0000ff"/>
<polygon points="1589.1,2068.6 1608.0,2068.6 1598.6,2084.0" fill="#0000ff"/>
<polygon points="1592.9,2064.3 1611.7,2064.3 1602.3,2079.7" fill="#0000ff"/>
<polygon points="1596.7,2060.2 1615.5,2060.2 1606.1,2075.6" fill="#0000ff"/>
<polygon points="1600.4,2056.3 1619.3,2056.3 1609.8,2071.6" fill="#0000ff"/>
<polygon points="1604.2,2052.3 1623.0,2052.3 1613.6,2067.7" fill="#0000ff"/>
<polygon points="1607.9,2048.5 1626.8,2048.5 1617.4,2063.8" fill="#0000ff"/>
<polygon points="1611.7,2044.6 1630.5,2044.6 1621.1,2060.0" fill="#0000ff"/>
<polygon points="1615.4,2040.8 1634.3,2040.8 1624.9,2056.2" fill="#0000ff"/>
<polygon points="1619.2,2037.1 1638.1,2037.1 1628.6,2052.5" fill="#0000ff"/>
<polygon points="1623.0,2033.4 1641.8,2033.4 1632.4,2048.7" fill="#0000ff"/>
<polygon points="1626.7,2029.7 1645.6,2029.7 1636.1,2045.0" fill="#0000ff"/>
<polygon points="1630.5,2026.0 1649.3,2026.0 1639.9,2041.4" fill="#0000ff"/>
<polygon points="1634.2,2022.3 1653.1,2022.3 1643.7,2037.7" fill="#0000ff"/>
<polygon points="1638.0,2018.7 1656.8,2018.7 1647.4,2034.1" fill="#0000ff"/>
<polygon points="1641.8,2015.1 1660.6,2015.1 1651.2,2030.5" fill="#0000ff"/>
<polygon points="1645.5,2011.5 1664.4,2011.5 1654.9,2026.9" fill="#0000ff"/>
<polygon points="1649.3,2007.9 1668.1,2007.9 1658.7,2023.3" fill="#0000ff"/>
<polygon points="1653.0,2004.3 1671.9,2004.3 1662.5,2019.7" fill="#0000ff"/>
<polygon points="1656.8,2000.8 1675.6,2000.8 1666.2,2016.1" fill="#0000ff"/>
<polygon points="1660.5,1997.2 1679.4,1997.2 1670.0,2012.6" fill="#0000ff"/>
<polygon points="1735.7,1940.8 1754.6,1940.8 1745.1,1956.2" fill="#0000ff"/>
<polygon points="1810.9,1882.8 1829.7,1882.8 1820.3,1898.1" fill="#0000ff"/>
<polygon points="1886.1,1826.9 1904.9,1826.9 1895.5,1842.3" fill="#0000ff"/>
<polygon points="1961.2,1774.1 1980.1,1774.1 1970.7,1789.5" fill="#0000ff"/>
<line x1="1168.80" y1="1764.80" x2="2009.45" y2="1764.80" stroke="#000" stroke-width="2.5" />
<line x1="1168.80" y1="2389.40" x2="2009.45" y2="2389.40" stroke="#000" stroke-width="2.5" />
<line x1="1180.80" y1="1764.80" x2="1180.80" y2="2395.40" stroke="#000" stroke-width="2.5" />
<line x1="2008.20" y1="1764.80" x2="2008.20" y2="2395.40" stroke="#000" stroke-width="2.5" />
<line x1="1168.80" y1="2389.40" x2="1180.80" y2="2389.40" stroke="#000" stroke-width="2.5" />
<text transform="translate(1159.80,2398.70) scale(0.94,1)" font-size="37" text-anchor="end" fill="#1c1c1c">-4</text>
<line x1="1174.50" y1="2350.53" x2="1180.80" y2="2350.53" stroke="#000" stroke-width="2.5" />
<line x1="1168.80" y1="2311.65" x2="1180.80" y2="2311.65" stroke="#000" stroke-width="2.5" />
<text transform="translate(1159.80,2320.95) scale(0.94,1)" font-size="37" text-anchor="end" fill="#1c1c1c">-3</text>
<line x1="1174.50" y1="2272.78" x2="1180.80" y2="2272.78" stroke="#000" stroke-width="2.5" />
<line x1="1168.80" y1="2233.90" x2="1180.80" y2="2233.90" stroke="#000" stroke-width="2.5" />
<text transform="translate(1159.80,2243.20) scale(0.94,1)" font-size="37" text-anchor="end" fill="#1c1c1c">-2</text>
<line x1="1174.50" y1="2195.03" x2="1180.80" y2="2195.03" stroke="#000" stroke-width="2.5" />
<line x1="1168.80" y1="2156.15" x2="1180.80" y2="2156.15" stroke="#000" stroke-width="2.5" />
<text transform="translate(1159.80,2165.45) scale(0.94,1)" font-size="37" text-anchor="end" fill="#1c1c1c">-1</text>
<line x1="1174.50" y1="2117.28" x2="1180.80" y2="2117.28" stroke="#000" stroke-width="2.5" />
<line x1="1168.80" y1="2078.40" x2="1180.80" y2="2078.40" stroke="#000" stroke-width="2.5" />
<text transform="translate(1159.80,2085.00) scale(0.94,1)" font-size="37" text-anchor="end" fill="#1c1c1c">0</text>
<line x1="1174.50" y1="2039.20" x2="1180.80" y2="2039.20" stroke="#000" stroke-width="2.5" />
<line x1="1168.80" y1="2000.00" x2="1180.80" y2="2000.00" stroke="#000" stroke-width="2.5" />
<text transform="translate(1159.80,2009.30) scale(0.94,1)" font-size="37" text-anchor="end" fill="#1c1c1c">1</text>
<line x1="1174.50" y1="1960.80" x2="1180.80" y2="1960.80" stroke="#000" stroke-width="2.5" />
<line x1="1168.80" y1="1921.60" x2="1180.80" y2="1921.60" stroke="#000" stroke-width="2.5" />
<text transform="translate(1159.80,1931.00) scale(0.94,1)" font-size="37" text-anchor="end" fill="#1c1c1c">2</text>
<line x1="1174.50" y1="1882.40" x2="1180.80" y2="1882.40" stroke="#000" stroke-width="2.5" />
<line x1="1168.80" y1="1843.20" x2="1180.80" y2="1843.20" stroke="#000" stroke-width="2.5" />
<text transform="translate(1159.80,1853.10) scale(0.94,1)" font-size="37" text-anchor="end" fill="#1c1c1c">3</text>
<line x1="1174.50" y1="1804.00" x2="1180.80" y2="1804.00" stroke="#000" stroke-width="2.5" />
<line x1="1168.80" y1="1764.80" x2="1180.80" y2="1764.80" stroke="#000" stroke-width="2.5" />
<text transform="translate(1159.80,1773.70) scale(0.94,1)" font-size="37" text-anchor="end" fill="#1c1c1c">4</text>
<line x1="1181.37" y1="2389.40" x2="1181.37" y2="2395.40" stroke="#000" stroke-width="2.5" />
<line x1="1218.95" y1="2389.40" x2="1218.95" y2="2395.40" stroke="#000" stroke-width="2.5" />
<line x1="1256.53" y1="2389.40" x2="1256.53" y2="2395.40" stroke="#000" stroke-width="2.5" />
<line x1="1294.12" y1="2389.40" x2="1294.12" y2="2399.90" stroke="#000" stroke-width="2.5" />
<text transform="translate(1292.62,2435.20) scale(0.94,1)" font-size="37" text-anchor="middle" fill="#1c1c1c">-40</text>
<line x1="1331.70" y1="2389.40" x2="1331.70" y2="2395.40" stroke="#000" stroke-width="2.5" />
<line x1="1369.29" y1="2389.40" x2="1369.29" y2="2395.40" stroke="#000" stroke-width="2.5" />
<line x1="1406.88" y1="2389.40" x2="1406.88" y2="2395.40" stroke="#000" stroke-width="2.5" />
<line x1="1444.46" y1="2389.40" x2="1444.46" y2="2399.90" stroke="#000" stroke-width="2.5" />
<text transform="translate(1442.96,2435.20) scale(0.94,1)" font-size="37" text-anchor="middle" fill="#1c1c1c">-20</text>
<line x1="1482.04" y1="2389.40" x2="1482.04" y2="2395.40" stroke="#000" stroke-width="2.5" />
<line x1="1519.63" y1="2389.40" x2="1519.63" y2="2395.40" stroke="#000" stroke-width="2.5" />
<line x1="1557.21" y1="2389.40" x2="1557.21" y2="2395.40" stroke="#000" stroke-width="2.5" />
<line x1="1594.80" y1="2389.40" x2="1594.80" y2="2399.90" stroke="#000" stroke-width="2.5" />
<text transform="translate(1593.30,2435.20) scale(0.94,1)" font-size="37" text-anchor="middle" fill="#1c1c1c">0</text>
<line x1="1632.38" y1="2389.40" x2="1632.38" y2="2395.40" stroke="#000" stroke-width="2.5" />
<line x1="1669.97" y1="2389.40" x2="1669.97" y2="2395.40" stroke="#000" stroke-width="2.5" />
<line x1="1707.56" y1="2389.40" x2="1707.56" y2="2395.40" stroke="#000" stroke-width="2.5" />
<line x1="1745.14" y1="2389.40" x2="1745.14" y2="2399.90" stroke="#000" stroke-width="2.5" />
<text transform="translate(1743.64,2435.20) scale(0.94,1)" font-size="37" text-anchor="middle" fill="#1c1c1c">20</text>
<line x1="1782.72" y1="2389.40" x2="1782.72" y2="2395.40" stroke="#000" stroke-width="2.5" />
<line x1="1820.31" y1="2389.40" x2="1820.31" y2="2395.40" stroke="#000" stroke-width="2.5" />
<line x1="1857.89" y1="2389.40" x2="1857.89" y2="2395.40" stroke="#000" stroke-width="2.5" />
<line x1="1895.48" y1="2389.40" x2="1895.48" y2="2399.90" stroke="#000" stroke-width="2.5" />
<text transform="translate(1893.98,2435.20) scale(0.94,1)" font-size="37" text-anchor="middle" fill="#1c1c1c">40</text>
<line x1="1933.07" y1="2389.40" x2="1933.07" y2="2395.40" stroke="#000" stroke-width="2.5" />
<line x1="1970.65" y1="2389.40" x2="1970.65" y2="2395.40" stroke="#000" stroke-width="2.5" />
<line x1="2008.23" y1="2389.40" x2="2008.23" y2="2395.40" stroke="#000" stroke-width="2.5" />
<text transform="translate(1593.50,2496.70) scale(1.0,1)" font-size="40.5" text-anchor="middle" fill="#1c1c1c">H(kOe)</text>
<text transform="translate(1113.5,2078) rotate(-90)" font-size="40.5" text-anchor="middle" fill="#1c1c1c">M(emu/g)</text>
<rect x="1202.50" y="1780.80" width="142.20" height="157.70" fill="#fff" stroke="#000" stroke-width="2.9" />
<line x1="1206.40" y1="1801.80" x2="1276.90" y2="1801.80" stroke="#000000" stroke-width="2.7" />
<rect x="1229.50" y="1797.80" width="21.50" height="8.00" fill="#fff" stroke="none" stroke-width="0" />
<rect x="1232.50" y="1795.85" width="15.60" height="14.51" fill="#000000" stroke="none" stroke-width="0" />
<text x="1284.6" y="1811" font-size="33" fill="#111" textLength="37.5" lengthAdjust="spacingAndGlyphs">5K</text>
<line x1="1206.40" y1="1840.80" x2="1276.90" y2="1840.80" stroke="#ff0000" stroke-width="2.7" />
<rect x="1229.50" y="1836.80" width="21.50" height="8.00" fill="#fff" stroke="none" stroke-width="0" />
<circle cx="1240.3" cy="1840.3" r="7.8" fill="#ff0000"/>
<text x="1284.6" y="1850.7" font-size="33" fill="#111" textLength="55" lengthAdjust="spacingAndGlyphs">25K</text>
<line x1="1206.40" y1="1878.10" x2="1276.90" y2="1878.10" stroke="#00ff00" stroke-width="2.7" />
<rect x="1229.50" y="1874.10" width="21.50" height="8.00" fill="#fff" stroke="none" stroke-width="0" />
<polygon points="1230.2,1885.1 1250.4,1885.1 1240.3,1868.6" fill="#00ff00"/>
<text x="1284.6" y="1887.3" font-size="33" fill="#111" textLength="55" lengthAdjust="spacingAndGlyphs">37K</text>
<line x1="1206.40" y1="1917.80" x2="1276.90" y2="1917.80" stroke="#0000ff" stroke-width="2.7" />
<rect x="1229.50" y="1913.80" width="21.50" height="8.00" fill="#fff" stroke="none" stroke-width="0" />
<polygon points="1230.2,1911.3 1250.4,1911.3 1240.3,1927.8" fill="#0000ff"/>
<text x="1284.6" y="1927" font-size="33" fill="#111" textLength="55" lengthAdjust="spacingAndGlyphs">50K</text>
</g>
<g id="subinset">
<rect x="1639.20" y="2085.90" width="348.70" height="244.90" fill="#fff" stroke="none" stroke-width="0" />
<clipPath id="clipS"><rect x="1639.2" y="2085.9" width="348.7" height="244.9"/></clipPath>
<g clip-path="url(#clipS)" fill="none" stroke-width="1.9">
<polyline stroke="#000" points="1713.8,2085.9 1639.2,2250.6"/>
<polyline stroke="#f00" points="1744.3,2085.9 1639.2,2318.1"/>
<polyline stroke="#0f0" points="1799.9,2085.9 1694.5,2330.8"/>
<polyline stroke="#00f" points="1817.1,2085.9 1713.1,2330.8"/>
<polyline stroke="#000" points="1932.3,2085.9 1858.1,2261.2 1852.8,2287.7 1847.6,2314.2 1844.9,2330.8"/>
<polyline stroke="#f00" points="1934.9,2085.9 1860.8,2255.9 1853.6,2269.2 1850.2,2287.7 1842.3,2330.8"/>
<polyline stroke="#0f0" points="1945.5,2085.9 1856.3,2306.2 1852.8,2330.8"/>
<polyline stroke="#00f" points="1964.0,2085.9 1862.9,2330.8"/>
</g>
<rect x="1685.20" y="2138.71" width="6.00" height="5.58" fill="#000" stroke="none" stroke-width="0" />
<rect x="1917.50" y="2109.21" width="6.00" height="5.58" fill="#000" stroke="none" stroke-width="0" />
<circle cx="1721.0" cy="2133.6" r="3.0" fill="#f00"/>
<circle cx="1688.2" cy="2217.5" r="3.0" fill="#f00"/>
<circle cx="1654.8" cy="2286.4" r="3.0" fill="#f00"/>
<circle cx="1921.0" cy="2117.0" r="3.0" fill="#f00"/>
<circle cx="1888.0" cy="2194.0" r="3.0" fill="#f00"/>
<circle cx="1854.0" cy="2270.0" r="3.0" fill="#f00"/>
<polygon points="1783.5,2112.8 1792.5,2112.8 1788.0,2105.4" fill="#0f0"/>
<polygon points="1716.5,2274.3 1725.5,2274.3 1721.0,2266.9" fill="#0f0"/>
<polygon points="1917.2,2152.5 1926.2,2152.5 1921.7,2145.1" fill="#0f0"/>
<polygon points="1883.5,2230.6 1892.6,2230.6 1888.1,2223.2" fill="#0f0"/>
<polygon points="1850.5,2308.5 1859.5,2308.5 1855.0,2301.1" fill="#0f0"/>
<polygon points="1783.5,2147.5 1792.5,2147.5 1788.0,2154.9" fill="#00f"/>
<polygon points="1750.4,2230.9 1759.5,2230.9 1754.9,2238.3" fill="#00f"/>
<polygon points="1716.5,2306.4 1725.5,2306.4 1721.0,2313.8" fill="#00f"/>
<polygon points="1950.2,2102.5 1959.3,2102.5 1954.8,2109.9" fill="#00f"/>
<polygon points="1917.2,2189.9 1926.2,2189.9 1921.7,2197.3" fill="#00f"/>
<polygon points="1883.5,2265.3 1892.6,2265.3 1888.1,2272.7" fill="#00f"/>
<rect x="1639.20" y="2085.90" width="348.70" height="244.90" fill="none" stroke="#000" stroke-width="2.8" />
<line x1="1633.00" y1="2175.70" x2="1987.90" y2="2175.70" stroke="#000" stroke-width="2.8" />
<line x1="1855.50" y1="2085.90" x2="1855.50" y2="2333.80" stroke="#000" stroke-width="2.8" />
<line x1="1634.50" y1="2120.90" x2="1639.20" y2="2120.90" stroke="#000" stroke-width="2" />
<line x1="1634.50" y1="2228.10" x2="1639.20" y2="2228.10" stroke="#000" stroke-width="2" />
<line x1="1634.50" y1="2283.70" x2="1639.20" y2="2283.70" stroke="#000" stroke-width="2" />
<line x1="1723.10" y1="2330.80" x2="1723.10" y2="2333.80" stroke="#000" stroke-width="2" />
<line x1="1987.90" y1="2330.80" x2="1987.90" y2="2333.80" stroke="#000" stroke-width="2" />
<text x="1720.50" y="2349.00" font-size="15.5" text-anchor="middle" fill="#555" >-100</text>
<text x="1854.00" y="2349.00" font-size="15.5" text-anchor="middle" fill="#555" >0</text>
<text x="1988.00" y="2349.00" font-size="15.5" text-anchor="middle" fill="#555" >100</text>
<text x="1851.50" y="2370.50" font-size="16" text-anchor="middle" fill="#555" >H (Oe)</text>
<text transform="translate(1620,2184) rotate(-90)" font-size="16" text-anchor="middle" fill="#555">M(emu/g)</text>
</g>
<line x1="1056.7" y1="552.4" x2="1052.2" y2="2561.8" stroke="#ed7d31" stroke-width="8" stroke-dasharray="33 22.32" stroke-dashoffset="15.5"/>
<g id="frame-b">
<line x1="299.50" y1="1352.60" x2="2062.50" y2="1352.60" stroke="#000" stroke-width="5.2" />
<line x1="299.50" y1="2577.40" x2="2062.50" y2="2577.40" stroke="#000" stroke-width="5.2" />
<line x1="310.20" y1="1350.00" x2="310.20" y2="2601.40" stroke="#000" stroke-width="5.2" />
<line x1="2059.90" y1="1350.00" x2="2059.90" y2="2601.40" stroke="#000" stroke-width="5.2" />
<line x1="286.30" y1="1452.50" x2="2059.90" y2="1452.50" stroke="#000" stroke-width="5.2" />
<line x1="286.30" y1="2477.40" x2="310.20" y2="2477.40" stroke="#000" stroke-width="5.2" />
<text transform="translate(268.50,2496.80) scale(0.95,1)" font-size="72.3" text-anchor="end" fill="#000" stroke="#fff" stroke-width="1.1">-100</text>
<line x1="299.50" y1="2374.91" x2="310.20" y2="2374.91" stroke="#000" stroke-width="5.2" />
<line x1="286.30" y1="2272.42" x2="310.20" y2="2272.42" stroke="#000" stroke-width="5.2" />
<text transform="translate(268.50,2291.82) scale(0.95,1)" font-size="72.3" text-anchor="end" fill="#000" stroke="#fff" stroke-width="1.1">-80</text>
<line x1="299.50" y1="2169.93" x2="310.20" y2="2169.93" stroke="#000" stroke-width="5.2" />
<line x1="286.30" y1="2067.44" x2="310.20" y2="2067.44" stroke="#000" stroke-width="5.2" />
<text transform="translate(268.50,2086.84) scale(0.95,1)" font-size="72.3" text-anchor="end" fill="#000" stroke="#fff" stroke-width="1.1">-60</text>
<line x1="299.50" y1="1964.95" x2="310.20" y2="1964.95" stroke="#000" stroke-width="5.2" />
<line x1="286.30" y1="1862.46" x2="310.20" y2="1862.46" stroke="#000" stroke-width="5.2" />
<text transform="translate(268.50,1881.86) scale(0.95,1)" font-size="72.3" text-anchor="end" fill="#000" stroke="#fff" stroke-width="1.1">-40</text>
<line x1="299.50" y1="1759.97" x2="310.20" y2="1759.97" stroke="#000" stroke-width="5.2" />
<line x1="286.30" y1="1657.48" x2="310.20" y2="1657.48" stroke="#000" stroke-width="5.2" />
<text transform="translate(268.50,1676.88) scale(0.95,1)" font-size="72.3" text-anchor="end" fill="#000" stroke="#fff" stroke-width="1.1">-20</text>
<line x1="299.50" y1="1554.99" x2="310.20" y2="1554.99" stroke="#000" stroke-width="5.2" />
<line x1="286.30" y1="1452.50" x2="310.20" y2="1452.50" stroke="#000" stroke-width="5.2" />
<text transform="translate(268.50,1473.00) scale(0.95,1)" font-size="71" text-anchor="end" fill="#000" stroke="#fff" stroke-width="1.1">0</text>
<line x1="310.20" y1="2577.40" x2="310.20" y2="2601.40" stroke="#000" stroke-width="5.2" />
<text transform="translate(309.70,2671.60) scale(0.955,1)" font-size="71" text-anchor="middle" fill="#000" stroke="#fff" stroke-width="1.1">0</text>
<line x1="456.01" y1="2577.40" x2="456.01" y2="2590.80" stroke="#000" stroke-width="5.2" />
<line x1="601.82" y1="2577.40" x2="601.82" y2="2601.40" stroke="#000" stroke-width="5.2" />
<text transform="translate(601.32,2671.60) scale(0.955,1)" font-size="71" text-anchor="middle" fill="#000" stroke="#fff" stroke-width="1.1">20</text>
<line x1="747.62" y1="2577.40" x2="747.62" y2="2590.80" stroke="#000" stroke-width="5.2" />
<line x1="893.43" y1="2577.40" x2="893.43" y2="2601.40" stroke="#000" stroke-width="5.2" />
<text transform="translate(892.93,2671.60) scale(0.955,1)" font-size="71" text-anchor="middle" fill="#000" stroke="#fff" stroke-width="1.1">40</text>
<line x1="1039.24" y1="2577.40" x2="1039.24" y2="2590.80" stroke="#000" stroke-width="5.2" />
<line x1="1185.05" y1="2577.40" x2="1185.05" y2="2601.40" stroke="#000" stroke-width="5.2" />
<text transform="translate(1184.55,2671.60) scale(0.955,1)" font-size="71" text-anchor="middle" fill="#000" stroke="#fff" stroke-width="1.1">60</text>
<line x1="1330.86" y1="2577.40" x2="1330.86" y2="2590.80" stroke="#000" stroke-width="5.2" />
<line x1="1476.67" y1="2577.40" x2="1476.67" y2="2601.40" stroke="#000" stroke-width="5.2" />
<text transform="translate(1476.17,2671.60) scale(0.955,1)" font-size="71" text-anchor="middle" fill="#000" stroke="#fff" stroke-width="1.1">80</text>
<line x1="1622.48" y1="2577.40" x2="1622.48" y2="2590.80" stroke="#000" stroke-width="5.2" />
<line x1="1768.28" y1="2577.40" x2="1768.28" y2="2601.40" stroke="#000" stroke-width="5.2" />
<text transform="translate(1767.78,2671.60) scale(0.955,1)" font-size="71" text-anchor="middle" fill="#000" stroke="#fff" stroke-width="1.1">100</text>
<line x1="1914.09" y1="2577.40" x2="1914.09" y2="2590.80" stroke="#000" stroke-width="5.2" />
<line x1="2059.90" y1="2577.40" x2="2059.90" y2="2601.40" stroke="#000" stroke-width="5.2" />
<text transform="translate(2059.40,2671.60) scale(0.955,1)" font-size="71" text-anchor="middle" fill="#000" stroke="#fff" stroke-width="1.1">120</text>
<text transform="translate(82.6,1962.4) rotate(-90)" font-size="90" text-anchor="middle" aria-label="H_E (Oe)">H<tspan font-size="60" dy="24.4">E</tspan><tspan dy="-24.4" dx="-2"> (Oe)</tspan></text>
<text x="1183.90" y="2801.70" font-size="89" text-anchor="middle" fill="#000" >T(K)</text>
</g>
</svg>
</body>
</html>
